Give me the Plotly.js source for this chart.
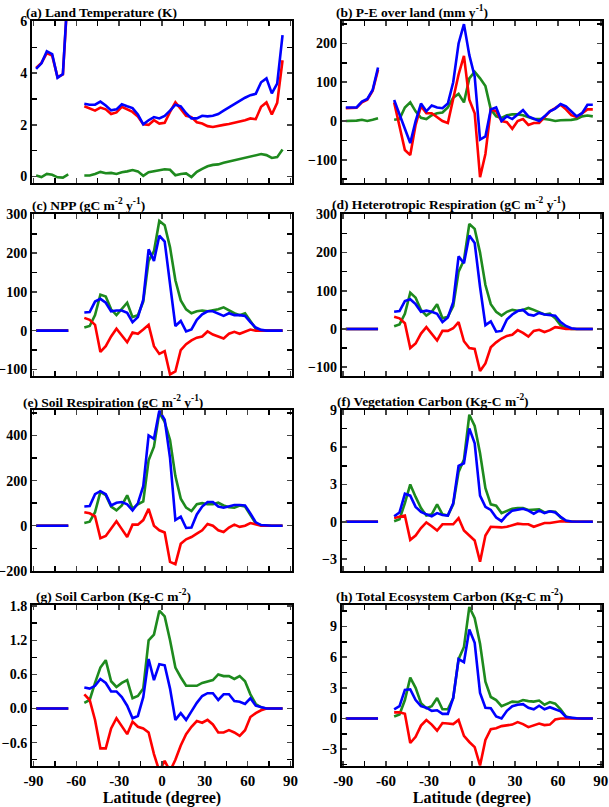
<!DOCTYPE html>
<html><head><meta charset="utf-8">
<script src="https://cdn.plot.ly/plotly-3.0.1.min.js"></script>
<style>body{margin:0;background:#fff}#c{width:609px;height:807px}</style>
</head><body><div id="c"></div>
<script>
const LAT = [-88.125, -84.375, -80.625, -76.875, -73.125, -69.375, -65.625, -61.875, -58.125, -54.375, -50.625, -46.875, -43.125, -39.375, -35.625, -31.875, -28.125, -24.375, -20.625, -16.875, -13.125, -9.375, -5.625, -1.875, 1.875, 5.625, 9.375, 13.125, 16.875, 20.625, 24.375, 28.125, 31.875, 35.625, 39.375, 43.125, 46.875, 50.625, 54.375, 58.125, 61.875, 65.625, 69.375, 73.125, 76.875, 80.625, 84.375, 88.125];
const X_TICKS = [-90, -60, -30, 0, 30, 60, 90];

// (a) Land Temperature (K)
const aRed = [4.2, 4.4, 4.78, 4.68, 3.85, 3.95, 7.4, null, null, 2.72, 2.62, 2.55, 2.67, 2.6, 2.42, 2.48, 2.7, 2.6, 2.5, 2.32, 2.02, 2.0, 2.18, 2.05, 2.08, 2.5, 2.87, 2.62, 2.35, 2.3, 2.1, 2.05, 1.95, 1.92, 1.97, 2.0, 2.03, 2.08, 2.12, 2.18, 2.25, 2.22, 2.7, 2.87, 2.4, 2.85, 4.5, null];
const aGreen = [0.04, -0.02, 0.1, 0.07, -0.03, -0.04, 0.08, null, null, 0.04, 0.04, 0.1, 0.18, 0.13, 0.14, 0.1, 0.17, 0.2, 0.25, 0.2, 0.03, 0.17, 0.2, 0.25, 0.28, 0.26, 0.05, 0.1, 0.12, -0.02, 0.18, 0.3, 0.4, 0.45, 0.47, 0.53, 0.58, 0.63, 0.67, 0.72, 0.76, 0.82, 0.87, 0.83, 0.72, 0.75, 1.05, null];
const aBlue = [4.17, 4.38, 4.85, 4.74, 3.82, 3.97, 7.5, null, null, 2.82, 2.78, 2.78, 2.9, 2.75, 2.56, 2.6, 2.8, 2.72, 2.65, 2.4, 2.02, 2.18, 2.3, 2.25, 2.35, 2.55, 2.78, 2.72, 2.45, 2.25, 2.25, 2.35, 2.33, 2.35, 2.42, 2.55, 2.68, 2.8, 2.92, 3.05, 3.15, 3.2, 3.65, 3.8, 3.22, 3.6, 5.47, null];

// (b) P-E over land
const bRed = [33, 34, 34, 48, 55, 78, 132, null, null, 48, -10, -75, -88, -10, 38, 20, 20, 10, 0, -5, 60, 120, 168, 55, 20, -145, -85, 30, 25, 0, -3, -20, 0, 5, -10, -5, -5, 10, 25, 33, 42, 30, 15, 10, 20, 30, 30, null];
const bGreen = [0, 0, 1, 3, 0, 3, 7, null, null, 3, 5, 35, 48, 25, 8, 5, 15, 20, 22, 35, 60, 70, 48, 110, 127, 110, 90, 30, 12, 8, 15, 17, 17, 15, 10, 5, 5, 5, 3, 0, 2, 2, 3, 5, 12, 14, 12, null];
const bBlue = [35, 35, 35, 50, 57, 80, 138, null, null, 54, 15, -20, -57, 0, 45, 25, 40, 35, 33, 45, 100, 200, 250, 170, 115, -48, -40, 30, 35, 0, 12, 5, 17, 28, 12, 5, 0, 12, 25, 32, 44, 38, 25, 12, 20, 42, 42, null];

// (c) NPP
const cRed = [0, 0, 0, 0, 0, 0, 0, null, null, 33, 28, 15, -55, -40, -15, 5, -12, -30, -5, -8, 3, 15, -40, -60, -53, -113, -105, -50, -35, -25, -18, -15, -2, -10, -15, -20, -8, -3, -8, -3, 3, 0, 0, 0, 0, 0, 0, null];
const cGreen = [0, 0, 0, 0, 0, 0, 0, null, null, 8, 12, 40, 93, 88, 55, 40, 55, 72, 35, 40, 75, 180, 205, 283, 272, 215, 130, 78, 55, 45, 50, 52, 50, 52, 55, 60, 52, 45, 40, 45, 25, 5, 0, 0, 0, 0, 0, null];
const cBlue = [0, 0, 0, 0, 0, 0, 0, null, null, 47, 48, 75, 82, 72, 50, 52, 52, 46, 22, 35, 80, 210, 180, 245, 230, 120, 12, 25, -2, 3, 28, 42, 50, 50, 45, 38, 45, 40, 40, 38, 22, 8, 2, 0, 0, 0, 0, null];

// (d) Heterotropic Respiration
const dRed = [0, 0, 0, 0, 0, 0, 0, null, null, 32, 28, 15, -50, -38, -12, 5, -12, -30, -5, -5, 2, 18, -32, -50, -52, -110, -90, -48, -35, -25, -18, -15, -3, -10, -20, -5, -2, -8, -3, 5, 3, 0, 0, 0, 0, 0, 0, null];
const dGreen = [0, 0, 0, 0, 0, 0, 0, null, null, 7, 12, 40, 95, 82, 50, 35, 45, 65, 28, 32, 60, 150, 180, 275, 262, 200, 115, 65, 45, 35, 45, 50, 48, 50, 55, 50, 45, 38, 40, 28, 10, 2, 0, 0, 0, 0, 0, null];
const dBlue = [0, 0, 0, 0, 0, 0, 0, null, null, 45, 47, 73, 78, 65, 45, 48, 45, 40, 18, 30, 70, 190, 172, 245, 225, 110, 10, 20, -7, -5, 25, 38, 47, 50, 38, 35, 42, 38, 37, 35, 18, 8, 2, 0, 0, 0, 0, null];

// (e) Soil Respiration
const eRed = [0, 0, 0, 0, 0, 0, 0, null, null, 60, 55, 42, -55, -45, -10, 20, -15, -50, 5, 5, 25, 75, 0, -20, -30, -160, -170, -80, -60, -50, -35, -20, 8, 0, -20, -28, -8, 5, -5, 0, 12, 5, 0, 0, 0, 0, 0, null];
const eGreen = [0, 0, 0, 0, 0, 0, 0, null, null, 12, 18, 60, 150, 135, 85, 68, 90, 135, 75, 95, 108, 290, 350, 500, 460, 380, 220, 120, 80, 65, 95, 100, 95, 95, 102, 90, 82, 80, 90, 85, 50, 10, 2, 0, 0, 0, 0, null];
const eBlue = [0, 0, 0, 0, 0, 0, 0, null, null, 85, 87, 140, 153, 140, 90, 102, 105, 95, 68, 100, 175, 400, 385, 510, 470, 300, 25, 40, -10, -8, 50, 85, 105, 105, 85, 80, 85, 92, 92, 90, 55, 15, 3, 0, 0, 0, 0, null];

// (f) Vegetation Carbon
const fRed = [0, 0, 0, 0, 0, 0, 0, null, null, 0.3, 0.4, 0.5, -1.45, -1.1, -0.5, -0.05, -0.35, -0.7, -0.2, -0.2, -0.2, 0.3, -0.7, -1.1, -1.5, -3.2, -1.1, -0.4, -0.45, -0.45, -0.4, -0.3, -0.15, -0.2, -0.2, -0.4, -0.25, -0.1, -0.1, -0.05, 0.05, 0.02, 0, 0, 0, 0, 0, null];
const fGreen = [0, 0, 0, 0, 0, 0, 0, null, null, 0.05, 0.2, 1.5, 3.0, 2.0, 1.1, 0.5, 0.6, 1.4, 0.6, 0.5, 1.4, 4.0, 5.0, 8.6, 7.7, 5.5, 2.7, 1.4, 1.3, 0.7, 0.85, 1.05, 1.1, 1.1, 0.95, 0.95, 1.0, 0.75, 0.85, 0.8, 0.35, 0.05, 0.01, 0, 0, 0, 0, null];
const fBlue = [0, 0, 0, 0, 0, 0, 0, null, null, 0.45, 0.75, 2.25, 2.1, 1.2, 0.8, 0.6, 0.45, 0.7, 0.55, 0.5, 1.5, 4.5, 4.7, 7.5, 6.3, 2.1, 1.2, 0.95, 0.35, 0.05, 0.55, 0.9, 1.0, 1.05, 0.9, 0.65, 0.9, 0.7, 0.85, 0.75, 0.4, 0.1, 0.02, 0, 0, 0, 0, null];

// (g) Soil Carbon
const gRed = [0, 0, 0, 0, 0, 0, 0, null, null, 0.25, 0.15, -0.2, -0.7, -0.7, -0.35, -0.17, -0.32, -0.45, -0.23, -0.32, -0.35, -0.42, -0.8, -1.1, -0.92, -1.1, -0.9, -0.65, -0.45, -0.32, -0.22, -0.25, -0.2, -0.28, -0.42, -0.42, -0.38, -0.42, -0.48, -0.38, -0.15, -0.08, -0.03, 0, 0, 0, 0, null];
const gGreen = [0, 0, 0, 0, 0, 0, 0, null, null, 0.1, 0.15, 0.45, 0.72, 0.85, 0.48, 0.38, 0.45, 0.5, 0.18, 0.22, 0.35, 1.2, 1.3, 1.72, 1.62, 1.2, 0.72, 0.55, 0.4, 0.4, 0.4, 0.45, 0.47, 0.5, 0.6, 0.57, 0.57, 0.52, 0.57, 0.48, 0.25, 0.08, 0.02, 0, 0, 0, 0, null];
const gBlue = [0, 0, 0, 0, 0, 0, 0, null, null, 0.37, 0.35, 0.4, 0.52, 0.45, 0.3, 0.3, 0.2, 0.05, -0.17, -0.13, 0.2, 0.87, 0.5, 0.78, 0.76, 0.35, -0.2, -0.08, -0.2, -0.05, 0.1, 0.22, 0.27, 0.27, 0.15, 0.25, 0.25, 0.13, 0.12, 0.08, 0.18, 0.05, 0.02, 0, 0, 0, 0, null];

// (h) Total Ecosystem Carbon
const hRed = [0, 0, 0, 0, 0, 0, 0, null, null, 0.6, 0.6, 0.45, -2.4, -1.8, -0.7, -0.15, -0.6, -1.2, -0.45, -0.5, -0.55, -0.15, -1.7, -2.3, -2.8, -4.6, -2.1, -1.05, -0.95, -0.75, -0.65, -0.6, -0.35, -0.55, -0.85, -0.65, -0.5, -0.65, -0.6, -0.1, 0, 0, 0, 0, 0, 0, 0, null];
const hGreen = [0, 0, 0, 0, 0, 0, 0, null, null, 0.2, 0.4, 1.8, 4.0, 3.0, 1.5, 1.0, 1.2, 2.0, 0.9, 0.9, 2.0, 5.8, 7.0, 10.9, 9.8, 7.3, 3.6, 2.1, 1.8, 1.2, 1.4, 1.65, 1.6, 1.8, 1.7, 1.65, 1.75, 1.35, 1.6, 1.45, 0.9, 0.2, 0.05, 0, 0, 0, 0, null];
const hBlue = [0, 0, 0, 0, 0, 0, 0, null, null, 0.9, 1.2, 2.8, 2.85, 1.8, 1.2, 1.05, 0.75, 0.8, 0.45, 0.45, 2.0, 5.8, 5.5, 8.7, 7.4, 2.5, 1.05, 1.0, 0.2, 0.0, 0.75, 1.2, 1.35, 1.4, 1.05, 0.9, 1.25, 0.9, 1.1, 0.9, 0.7, 0.15, 0.05, 0.02, 0, 0, 0, null];

const TITLES = [
  '(a) Land Temperature (K)',
  '(b) P-E over land (mm y<sup>-1</sup>)',
  '(c) NPP (gC m<sup>-2</sup> y<sup>-1</sup>)',
  '(d) Heterotropic Respiration (gC m<sup>-2</sup> y<sup>-1</sup>)',
  '(e) Soil Respiration (gC m<sup>-2</sup> y<sup>-1</sup>)',
  '(f) Vegetation Carbon (Kg-C m<sup>-2</sup>)',
  '(g) Soil Carbon (Kg-C m<sup>-2</sup>)',
  '(h) Total Ecosystem Carbon (Kg-C m<sup>-2</sup>)'
];
const X_TITLE = 'Latitude (degree)';

const series = [
  [aRed, aGreen, aBlue], [bRed, bGreen, bBlue], [cRed, cGreen, cBlue], [dRed, dGreen, dBlue],
  [eRed, eGreen, eBlue], [fRed, fGreen, fBlue], [gRed, gGreen, gBlue], [hRed, hGreen, hBlue]
];

// styling / layout (not data)
const W = 609, H = 807;
const FONT = 'Liberation Serif, Times New Roman, serif';
const COLORS = {red: '#ff0000', green: '#1e8a1e', blue: '#0000ff'};
const colPx = [[32, 292], [341.7, 602.3]];
const rowPx = [[21, 183], [214, 376], [409.5, 571], [605, 766]];
const yConf = [
  {r: [-0.25, 6.02], d: 2},
  {r: [-160, 258], d: 100},
  {r: [-117, 301], d: 100},
  {r: [-123, 301], d: 100},
  {r: [-200.5, 515], d: 200},
  {r: [-3.95, 9.02], d: 3},
  {r: [-1.01, 1.82], d: 0.6, f: '.1f'},
  {r: [-4.65, 11.1], d: 3}
];
// title centres (px)
const titlePos = [[101, 12], [412, 11], [88, 205], [449, 204], [113, 401], [433, 400], [113, 595], [449, 595]];

const data = [];
const layout = {
  width: W, height: H, margin: {l: 0, r: 0, t: 0, b: 0},
  paper_bgcolor: '#fff', plot_bgcolor: '#fff', showlegend: false,
  font: {family: FONT, size: 14, color: '#000', weight: 'bold'},
  annotations: []
};

for (let k = 0; k < 8; k++) {
  const col = k % 2, row = Math.floor(k / 2);
  const sfx = k === 0 ? '' : String(k + 1);
  const [r, g, b] = series[k];
  const mk = (y, c) => ({x: LAT, y: y, type: 'scatter', mode: 'lines', connectgaps: false,
    line: {color: c, width: 2.6}, xaxis: 'x' + sfx, yaxis: 'y' + sfx, hoverinfo: 'skip'});
  data.push(mk(g, COLORS.green), mk(r, COLORS.red), mk(b, COLORS.blue));

  const bottom = row === 3;
  const xa = {
    domain: [colPx[col][0] / W, colPx[col][1] / W], anchor: 'y' + sfx,
    range: [-91, 91], tickmode: 'array', tickvals: X_TICKS, ticktext: X_TICKS.map(String),
    ticks: 'inside', ticklen: 5, tickwidth: 1.5, showline: true, linewidth: 2, linecolor: '#000',
    mirror: 'ticks', showgrid: false, zeroline: false, showticklabels: bottom,
    minor: {tickvals: [-75, -45, -15, 15, 45, 75], ticks: 'inside', ticklen: 5, tickwidth: 1.5, tickcolor: '#000'},
    tickfont: {family: FONT, size: 15, weight: 'bold'}, automargin: false
  };
  if (bottom) xa.title = {text: X_TITLE, font: {family: FONT, size: 16, weight: 'bold'}, standoff: 3};
  layout['xaxis' + sfx] = xa;
  const yc = yConf[k];
  layout['yaxis' + sfx] = {
    domain: [1 - rowPx[row][1] / H, 1 - rowPx[row][0] / H], anchor: 'x' + sfx,
    range: yc.r, tick0: 0, dtick: yc.d, tickformat: yc.f || '',
    ticks: 'inside', ticklen: 5, tickwidth: 1.5, showline: true, linewidth: 2, linecolor: '#000',
    mirror: 'ticks', showgrid: false, zeroline: false,
    minor: {tick0: 0, dtick: yc.d / 2, ticks: 'inside', ticklen: 5, tickwidth: 1.5, tickcolor: '#000'},
    tickfont: {family: FONT, size: 14, weight: 'bold'}, automargin: false
  };
  layout.annotations.push({
    text: TITLES[k], xref: 'paper', yref: 'paper', x: titlePos[k][0] / W, y: 1 - titlePos[k][1] / H,
    xanchor: 'center', yanchor: 'middle', showarrow: false,
    font: {family: FONT, size: 13.5, weight: 'bold', color: '#000'}
  });
}

Plotly.newPlot('c', data, layout, {staticPlot: true, displayModeBar: false});
</script></body></html>
